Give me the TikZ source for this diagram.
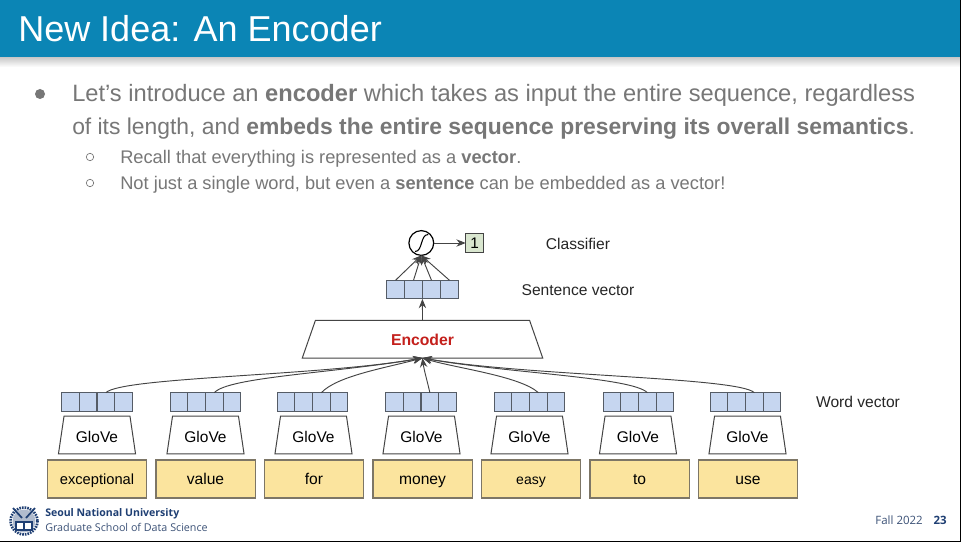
\documentclass[tikz,border=0pt]{standalone}
\usepackage{fontspec}
\setmainfont{Liberation Sans}
\newfontfamily\footfont{Open Sans}
\usetikzlibrary{arrows.meta,shapes.geometric}

\definecolor{barblue}{HTML}{0B85B5}
\definecolor{slidegray}{HTML}{777777}
\definecolor{cellblue}{HTML}{C6D6F0}
\definecolor{cellline}{HTML}{555C66}
\definecolor{wordyellow}{HTML}{FBE49E}
\definecolor{wordline}{HTML}{7D7666}
\definecolor{boxgreen}{HTML}{D9E6CF}
\definecolor{encred}{HTML}{C4201C}
\definecolor{snunavy}{HTML}{1F3F73}
\definecolor{linegray}{HTML}{444444}

\tikzset{
    cell/.style={draw=cellline, fill=cellblue, line width=0.75pt, minimum width=13.3pt, minimum height=14pt, inner sep=0pt, outer sep=0pt},
    wordbox/.style={draw=wordline, fill=wordyellow, line width=1pt, minimum width=74.5pt, minimum height=28.5pt, inner sep=0pt, outer sep=0pt, text height=9.5pt, text depth=1.5pt},
    glovebox/.style={draw=linegray, fill=white, line width=0.75pt, trapezium, trapezium stretches=true, trapezium left angle=77, trapezium right angle=77, minimum width=58pt, minimum height=28.2pt, inner sep=0pt, outer sep=0pt, text height=11pt, text depth=0.5pt, font=\fontsize{11.6}{12}\selectfont},
    encbox/.style={draw=linegray, fill=white, line width=0.75pt, trapezium, trapezium stretches=true, trapezium left angle=75, trapezium right angle=75, minimum width=181pt, minimum height=28.2pt, inner sep=0pt, outer sep=0pt, text height=10.3pt, text depth=0.5pt},
    label/.style={font=\fontsize{11.7}{13}\selectfont, text=black!85},
    mainline/.style={anchor=base west, inner sep=0pt, text=slidegray, font=\fontsize{17.15}{20}\selectfont},
    subline/.style={anchor=base west, inner sep=0pt, text=slidegray, font=\fontsize{13.7}{15}\selectfont},
    feed/.style={draw=linegray, line width=0.7pt, -{Stealth[length=7pt,width=5.5pt]}},
}

\begin{document}
\begin{tikzpicture}[x=0.75pt, y=-0.75pt]
    \useasboundingbox (0,0) rectangle (961,542);

    % Slide frame and title bar
    \fill[white] (0,0) rectangle (961,542);
    \shade[top color=black!22, bottom color=white] (0,57) rectangle (961,67);
    \fill[barblue] (0,0) rectangle (961,57);
    \node[anchor=base west, inner sep=0pt, text=white, font=\fontsize{27}{30}\selectfont] (title) at (18,42) {New Idea: An Encoder};

    % Bullets
    \fill[slidegray] (40,94) circle (5);
    \draw[slidegray, line width=0.5pt] (90,157) circle (3.7);
    \draw[slidegray, line width=0.5pt] (90,183) circle (3.7);
    \node[mainline, font=\fontsize{17.75}{20}\selectfont] (line1) at (72,102) {Let’s introduce an \textbf{encoder} which takes as input the entire sequence, regardless};
    \node[mainline] (line2) at (72,135) {of its length, and \textbf{embeds the entire sequence preserving its overall semantics}.};
    \node[subline] (line3) at (120,163) {Recall that everything is represented as a \textbf{vector}.};
    \node[subline] (line4) at (120,189.5) {Not just a single word, but even a \textbf{sentence} can be embedded as a vector!};

    % Word boxes, GloVe and word vectors
    \foreach \word/\wx/\gx/\vx/\fs [count=\i] in {exceptional/97/97/97/11, value/205.5/205.5/205.5/11.7, for/314/313.5/312.5/11.7, money/422.5/421.5/421/11.7, easy/531/529.5/529.5/10.5, to/639.5/638/638.5/11.7, use/748/747.5/745.5/11.7} {
        \node[wordbox, font=\fontsize{\fs}{13}\selectfont] (word\i) at (\wx,479) {\word};
        \node[glovebox] (glove\i) at (\gx,435) {GloVe};
        \foreach \j in {1,2,3,4} {
            \node[cell] (vec\i\j) at ({\vx+(\j-2.5)*17.75},402) {};
        }
    }

    % Encoder and sentence vector
    \node[encbox, font=\bfseries\fontsize{11.8}{13}\selectfont, text=encred] (encoder) at (422.5,339.2) {Encoder};
    \foreach \j in {1,2,3,4} {
        \node[cell] (sent\j) at ({422.5+(\j-2.5)*17.9},289.5) {};
    }
    \draw[feed] (encoder.north) -- (sent2.south east);

    % Word vectors into the encoder
    \draw[feed] (vec13.north) .. controls (122,377) and (320,376) .. (encoder.south);
    \draw[feed] (vec23.north) .. controls (228,377) and (335,373) .. (encoder.south);
    \draw[feed] (vec33.north) .. controls (337,376) and (385,368) .. (encoder.south);
    \draw[feed] (vec43.north) .. controls (427,380) and (424,370) .. (encoder.south);
    \draw[feed] (vec53.north) .. controls (520,376) and (455,368) .. (encoder.south);
    \draw[feed] (vec63.north) .. controls (632,377) and (505,373) .. (encoder.south);
    \draw[feed] (vec73.north) .. controls (738,377) and (525,376) .. (encoder.south);

    % Classifier
    \node[circle, draw=black, fill=white, line width=0.9pt, minimum size=18.6pt, inner sep=0pt, outer sep=0pt] (sigmoid) at (421.3,243) {};
    \draw[black, line width=0.8pt] (415,251.5) .. controls (423,251.5) and (420,234.5) .. (428.3,234.5);
    \foreach \j in {1,2,3,4} {
        \draw[feed] (sent\j.north) -- (sigmoid.south);
    }
    \node[draw=linegray, fill=boxgreen, line width=0.75pt, minimum width=13.5pt, minimum height=13.7pt, inner sep=0pt, outer sep=0pt, font=\fontsize{11.5}{12}\selectfont] (output) at (474.7,243) {1};
    \draw[feed] (sigmoid.east) -- (output.west);

    % Labels on the right
    \node[label] (classifier) at (578,244) {Classifier};
    \node[label] (sentence) at (578,290) {Sentence vector};
    \node[label] (wordvec) at (858,402) {Word vector};

    % Footer
    \draw[snunavy, line width=2pt, dash pattern=on 1.2pt off 0.8pt] (24,521) circle (13.5);
    \fill[snunavy!35] (24,521) circle (11.5);
    \fill[snunavy] (15,521) rectangle (33,531);
    \fill[white] (17,523) rectangle (23,529);
    \fill[white] (25,523) rectangle (31,529);
    \draw[snunavy, line width=1.3pt] (13,508) -- (22,518);
    \draw[snunavy, line width=1.3pt] (35,508) -- (26,518);
    \node[anchor=base west, inner sep=0pt, text=snunavy, font=\footfont\bfseries\fontsize{7.9}{9}\selectfont] (snu) at (45,516.5) {Seoul National University};
    \node[anchor=base west, inner sep=0pt, text=snunavy!70!gray, font=\footfont\fontsize{8.05}{9}\selectfont] (gsds) at (45,531) {Graduate School of Data Science};
    \node[anchor=base east, inner sep=0pt, text=snunavy!70!gray, font=\footfont\fontsize{8.6}{9}\selectfont] (term) at (923,524.5) {Fall 2022};
    \node[anchor=base east, inner sep=0pt, text=snunavy, font=\footfont\bfseries\fontsize{8.6}{9}\selectfont] (page) at (947,524.5) {23};

    \draw[black, line width=1pt] (0,541.3) -- (961,541.3);
    \draw[black, line width=0.6pt] (960.6,0) -- (960.6,542);
\end{tikzpicture}
\end{document}
